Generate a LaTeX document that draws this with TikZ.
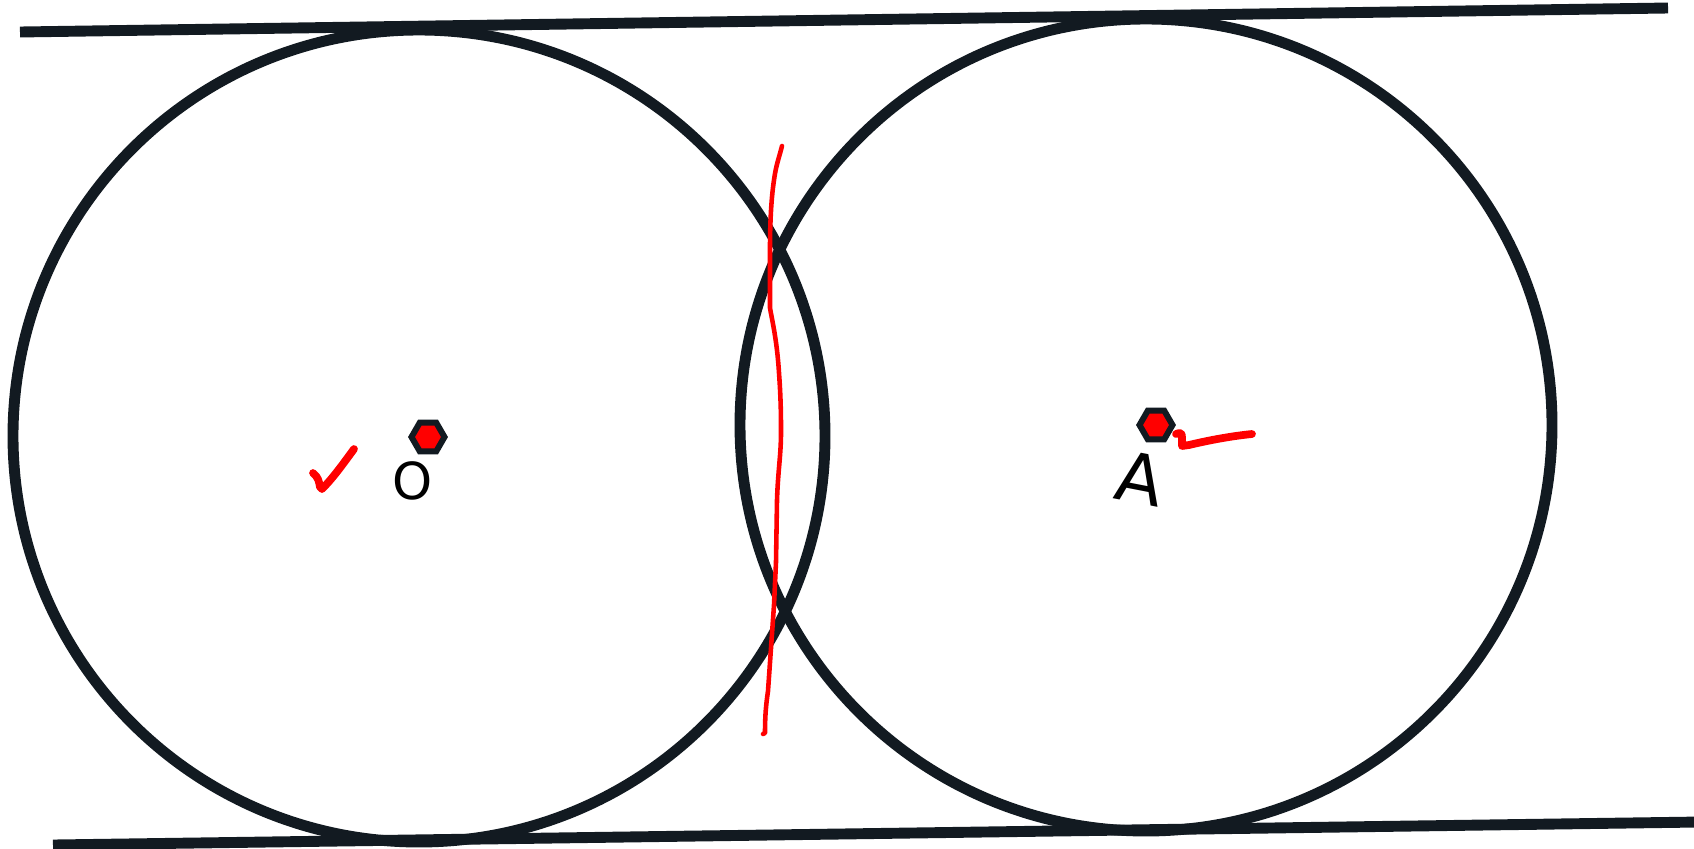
\documentclass[tikz,border=0pt]{standalone}
\usepackage{tikz}
\usetikzlibrary{shapes.geometric,positioning}
\usepackage{fontspec}
\setmainfont{DejaVu Sans}
\definecolor{ink}{HTML}{121A21}

\begin{document}
\begin{tikzpicture}[x=0.01cm, y=-0.01cm,
  geoline/.style={ink, line width=3.1pt},
  ptmark/.style={regular polygon, regular polygon sides=6, draw=ink, fill=red, line width=1.7pt, minimum size=0.33cm, inner sep=0pt},
  ptlabel/.style={font=\fontsize{14.5}{17}\selectfont, inner sep=0pt},
  scribble/.style={red, line cap=round, line join=round}
]
  \useasboundingbox (0,0) rectangle (1694,848);

  % circles
  \draw[geoline] (419,436) circle[radius=406];
  \draw[geoline] (1146,425) circle[radius=406];

  % common tangents
  \coordinate (t1) at (20,32);
  \coordinate (t2) at (1668,8);
  \coordinate (b1) at (53,845);
  \coordinate (b2) at (1700,822);
  \draw[geoline] (t1) -- (t2);
  \draw[geoline] (b1) -- (b2);

  % points
  \node[ptmark] (O) at (428,437) {};
  \node[ptlabel] (Olab) at (413,481) {O};
  \node[ptmark] (A) at (1156,425) {};
  \node[ptlabel, font=\fontsize{19.5}{22}\selectfont, rotate=-11] (Alab) at (1140,478) {A};

  % red marks
  \draw[scribble, line width=2.2pt] (313,473) .. controls (318,477) and (319,481) .. (320,487)
    -- (322,489) .. controls (333,478) and (343,464) .. (354,449);
  \draw[scribble, line width=2.2pt] (1176,434) .. controls (1181,432) and (1182,433) .. (1182,438)
    -- (1182,446) -- (1189,445) .. controls (1210,440) and (1232,436) .. (1252,434);
  \draw[scribble, line width=1.3pt] (782,146) .. controls (779,158) and (776,165) .. (774,180)
    .. controls (771,200) and (770,225) .. (770,248)
    -- (770,308) .. controls (772,320) and (777,340) .. (779,373)
    .. controls (781,400) and (781,420) .. (781,432)
    .. controls (781,455) and (778,470) .. (777,500)
    -- (776,562) -- (774,605) -- (771,648) -- (768,691)
    .. controls (766,705) and (765,715) .. (765,733) -- (763,734);
\end{tikzpicture}
\end{document}
